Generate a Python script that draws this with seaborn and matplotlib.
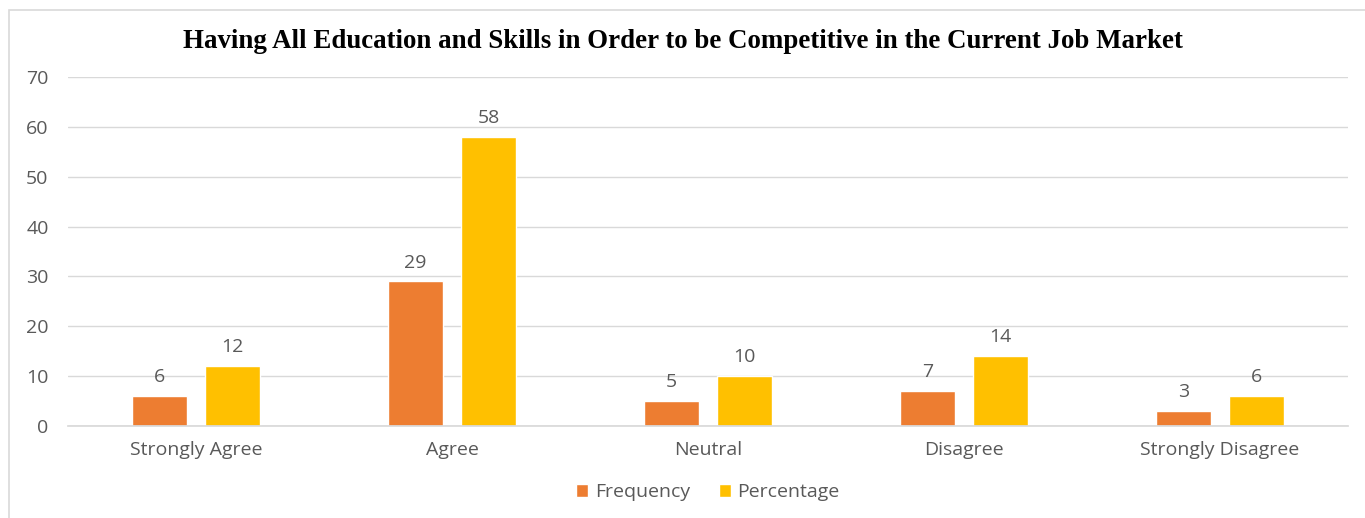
import matplotlib
matplotlib.use("Agg")
import matplotlib.pyplot as plt
import matplotlib.patches as mpatches
import seaborn as sns
import pandas as pd

categories = ["Strongly Agree", "Agree", "Neutral", "Disagree", "Strongly Disagree"]
frequency = [6, 29, 5, 7, 3]
percentage = [12, 58, 10, 14, 6]
series_names = ["Frequency", "Percentage"]
y_ticks = [0, 10, 20, 30, 40, 50, 60, 70]

df = pd.DataFrame({
    "Response": categories * 2,
    "Series": [series_names[0]] * len(categories) + [series_names[1]] * len(categories),
    "Value": frequency + percentage,
})

sns.set_theme(style="white")
plt.rcParams["font.family"] = ["Open Sans", "DejaVu Sans"]

text_gray = "#595959"
label_size = 14
palette = {"Frequency": "#ED7D31", "Percentage": "#FFC000"}

fig = plt.figure(figsize=(13.65, 5.18), dpi=100)
ax = fig.add_axes([0.0498, 0.1776, 0.9377, 0.6738])

sns.barplot(data=df, x="Response", y="Value", hue="Series", order=categories,
            hue_order=series_names, palette=palette, width=0.57, gap=0.25,
            saturation=1, ax=ax, legend=True)

for container in ax.containers:
    ax.bar_label(container, fmt="%d", padding=7, fontsize=label_size, color=text_gray)

ax.set_ylim(0, 70)
ax.set_yticks(y_ticks)
ax.set_xlim(-0.5, len(categories) - 0.5)
ax.grid(axis="y", color="#D9D9D9", linewidth=1)
ax.set_axisbelow(True)
for side in ["top", "right", "left"]:
    ax.spines[side].set_visible(False)
ax.spines["bottom"].set_color("#D9D9D9")
ax.tick_params(axis="both", length=0, labelsize=label_size, labelcolor=text_gray)
ax.tick_params(axis="x", pad=11)
ax.tick_params(axis="y", pad=14)
ax.set_xlabel("")
ax.set_ylabel("")

handles, labels = ax.get_legend_handles_labels()
ax.legend(handles, labels, loc="center", bbox_to_anchor=(0.5, -0.19), ncol=2,
          frameon=False, fontsize=label_size, labelcolor=text_gray, handlelength=0.6,
          handleheight=0.6, handletextpad=0.35, columnspacing=1.5)

fig.text(0.5, 0.92, "Having All Education and Skills in Order to be Competitive in the Current Job Market",
         ha="center", va="center", fontsize=19.4, fontweight="bold",
         family=["Liberation Serif"], color="black")

fig.patches.append(mpatches.Rectangle((9 / 1365, -0.01), 1.0, 1 - 10 / 518 + 0.01,
                                      transform=fig.transFigure, fill=False,
                                      edgecolor="#D9D9D9", linewidth=1.2))

fig.savefig("out.png", dpi=100, facecolor="white")
